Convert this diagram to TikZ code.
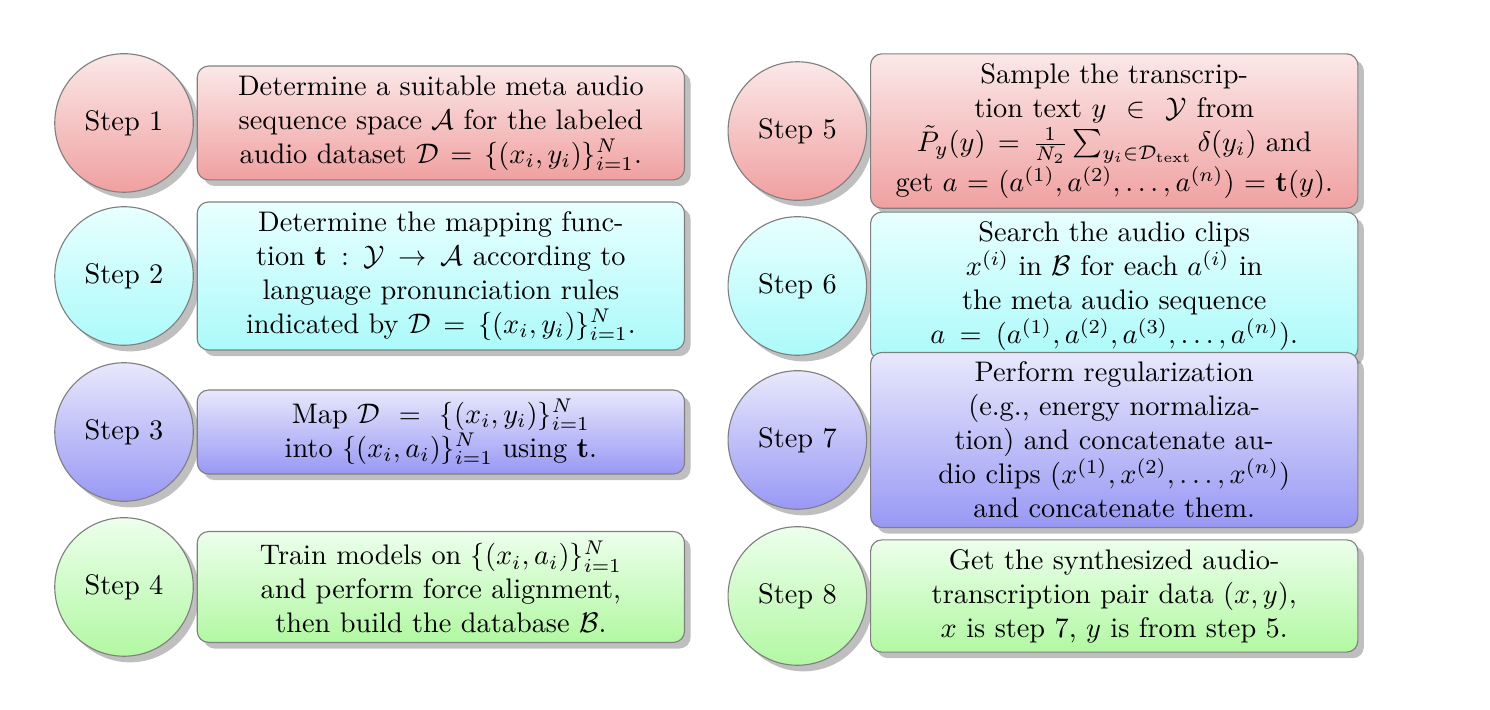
\documentclass[tikz,border=0pt]{standalone}
\usepackage{amsmath,amssymb}
\usepackage{tikz}
\usetikzlibrary{positioning,shadows}
\definecolor{redT}{RGB}{251,232,232}
\definecolor{redB}{RGB}{240,160,160}
\definecolor{cyanT}{RGB}{232,255,255}
\definecolor{cyanB}{RGB}{172,250,250}
\definecolor{blueT}{RGB}{232,232,252}
\definecolor{blueB}{RGB}{152,152,245}
\definecolor{greenT}{RGB}{236,255,236}
\definecolor{greenB}{RGB}{178,248,162}

\begin{document}
\begin{tikzpicture}[
  node distance=1pt,
  stepc/.style={circle, draw=black!50, minimum size=17.2mm, inner sep=0pt,
                top color=#1T, bottom color=#1B, drop shadow},
  stepbox/.style={draw=black!50, rounded corners=4pt, align=center,
                  text width=57mm, minimum width=60.5mm,
                  top color=#1T, bottom color=#1B, drop shadow}
]
\useasboundingbox (0,0) rectangle (18.5,-8.815);
% left column
\node[stepc=red]   (s1) at (1.54,-1.527) {Step 1};
\node[stepc=cyan]  (s2) at (1.54,-3.427) {Step 2};
\node[stepc=blue]  (s3) at (1.54,-5.364) {Step 3};
\node[stepc=green] (s4) at (1.54,-7.288) {Step 4};
\node[stepbox=red, right=of s1] (b1) {Determine a suitable meta audio\\
  sequence space $\mathcal{A}$ for the labeled\\
  audio dataset $\mathcal{D}=\{(x_i,y_i)\}_{i=1}^N$.};
\node[stepbox=cyan, right=of s2] (b2) {Determine the mapping func-\\
  tion $\mathbf{t}:\mathcal{Y}\to\mathcal{A}$ according to\\
  language pronunciation rules\\
  indicated by $\mathcal{D}=\{(x_i,y_i)\}_{i=1}^N$.};
\node[stepbox=blue, right=of s3] (b3) {Map $\mathcal{D}=\{(x_i,y_i)\}_{i=1}^N$\\
  into $\{(x_i,a_i)\}_{i=1}^N$ using $\mathbf{t}$.};
\node[stepbox=green, right=of s4] (b4) {Train models on $\{(x_i,a_i)\}_{i=1}^N$\\
  and perform force alignment,\\
  then build the database $\mathcal{B}$.};
% right column
\node[stepc=red]   (s5) at (9.90,-1.627) {Step 5};
\node[stepc=cyan]  (s6) at (9.90,-3.551) {Step 6};
\node[stepc=blue]  (s7) at (9.90,-5.463) {Step 7};
\node[stepc=green] (s8) at (9.90,-7.400) {Step 8};
\node[stepbox=red, right=of s5] (b5) {Sample the transcrip-\\
  tion text $y\in\mathcal{Y}$ from\\
  $\tilde{P}_y(y)=\frac{1}{N_2}\sum_{y_i\in\mathcal{D}_{\text{text}}}\delta(y_i)$ and\\
  get $a=(a^{(1)},a^{(2)},\dots,a^{(n)})=\mathbf{t}(y)$.};
\node[stepbox=cyan, right=of s6] (b6) {Search the audio clips\\
  $x^{(i)}$ in $\mathcal{B}$ for each $a^{(i)}$ in\\
  the meta audio sequence\\
  $a=(a^{(1)},a^{(2)},a^{(3)},\dots,a^{(n)})$.};
\node[stepbox=blue, right=of s7] (b7) {Perform regularization\\
  (e.g., energy normaliza-\\
  tion) and concatenate au-\\
  dio clips $(x^{(1)},x^{(2)},\dots,x^{(n)})$\\
  and concatenate them.};
\node[stepbox=green, right=of s8] (b8) {Get the synthesized audio-\\
  transcription pair data $(x,y)$,\\
  $x$ is step 7, $y$ is from step 5.};
\end{tikzpicture}
\end{document}
